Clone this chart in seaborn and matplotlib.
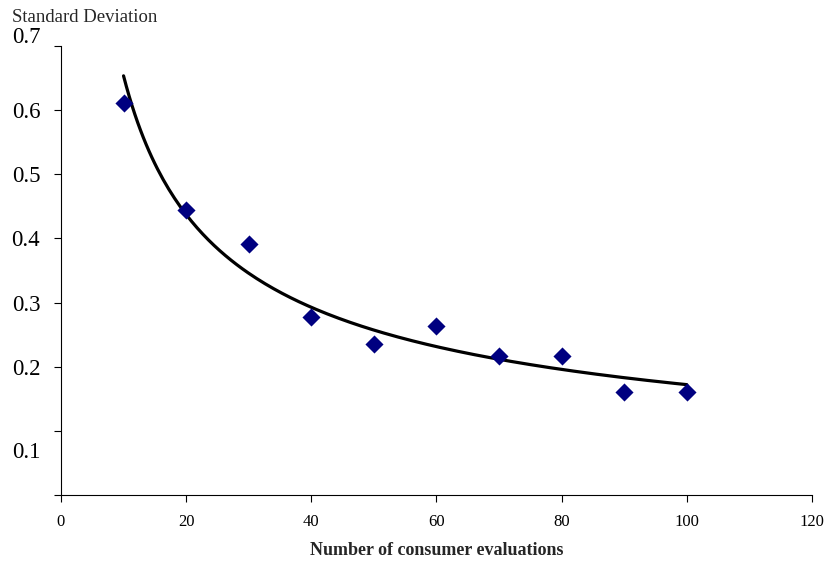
import numpy as np
import pandas as pd
import matplotlib
matplotlib.use("Agg")
import matplotlib.pyplot as plt
import matplotlib.transforms as mtransforms
import seaborn as sns

# Data
evaluations = [10, 20, 30, 40, 50, 60, 70, 80, 90, 100]
std_dev = [0.611, 0.445, 0.392, 0.277, 0.236, 0.264, 0.217, 0.217, 0.161, 0.161]

x_ticks = [0, 20, 40, 60, 80, 100, 120]
y_ticks = [0, 0.1, 0.2, 0.3, 0.4, 0.5, 0.6, 0.7]
y_tick_labels = ["", "0.1", "0.2", "0.3", "0.4", "0.5", "0.6", "0.7"]

df = pd.DataFrame({"n": evaluations, "sd": std_dev})

# Power trendline fitted to the points (like Excel's power trendline)
b, log_a = np.polyfit(np.log(df["n"]), np.log(df["sd"]), 1)
trend_x = np.linspace(10, 100, 200)
trend = pd.DataFrame({"n": trend_x, "sd": np.exp(log_a) * trend_x ** b})

sns.set_style("white")
plt.rcParams["font.family"] = ["Liberation Serif", "DejaVu Serif"]

fig = plt.figure(figsize=(8.26, 5.64), dpi=100)
ax = fig.add_axes([0.0738, 0.1223, 0.9092, 0.7961])

sns.lineplot(data=trend, x="n", y="sd", color="black", linewidth=2.3, ax=ax)
sns.scatterplot(data=df, x="n", y="sd", marker="D", color="#000080",
                s=85, edgecolor="#000080", linewidth=0, ax=ax, zorder=3)

ax.set_xlim(0, 120)
ax.set_ylim(0, 0.7)
ax.set_xticks(x_ticks)
ax.set_yticks(y_ticks)
ax.set_yticklabels(y_tick_labels)
ax.tick_params(axis="x", bottom=True, direction="out", length=5, width=0.8,
               labelsize=12, pad=9, colors="black")
ax.tick_params(axis="y", left=True, direction="out", length=5, width=0.8,
               labelsize=16.5, pad=10, colors="black")

for side in ["top", "right"]:
    ax.spines[side].set_visible(False)
for side in ["left", "bottom"]:
    ax.spines[side].set_color("black")
    ax.spines[side].set_linewidth(0.8)

# small label offsets as in the original
shift = {"0.7": 8, "0.1": -14}
for lab in ax.get_yticklabels():
    if lab.get_text() in shift:
        off = mtransforms.ScaledTranslation(0, shift[lab.get_text()] / 72, fig.dpi_scale_trans)
        lab.set_transform(lab.get_transform() + off)

ax.set_xlabel("Number of consumer evaluations", fontsize=13, fontweight="bold", labelpad=8)
ax.set_ylabel("")
fig.text(12 / 826, 1 - 17 / 564, "Standard Deviation", fontsize=13.5, va="center", ha="left")

fig.savefig("out.png", dpi=100)
